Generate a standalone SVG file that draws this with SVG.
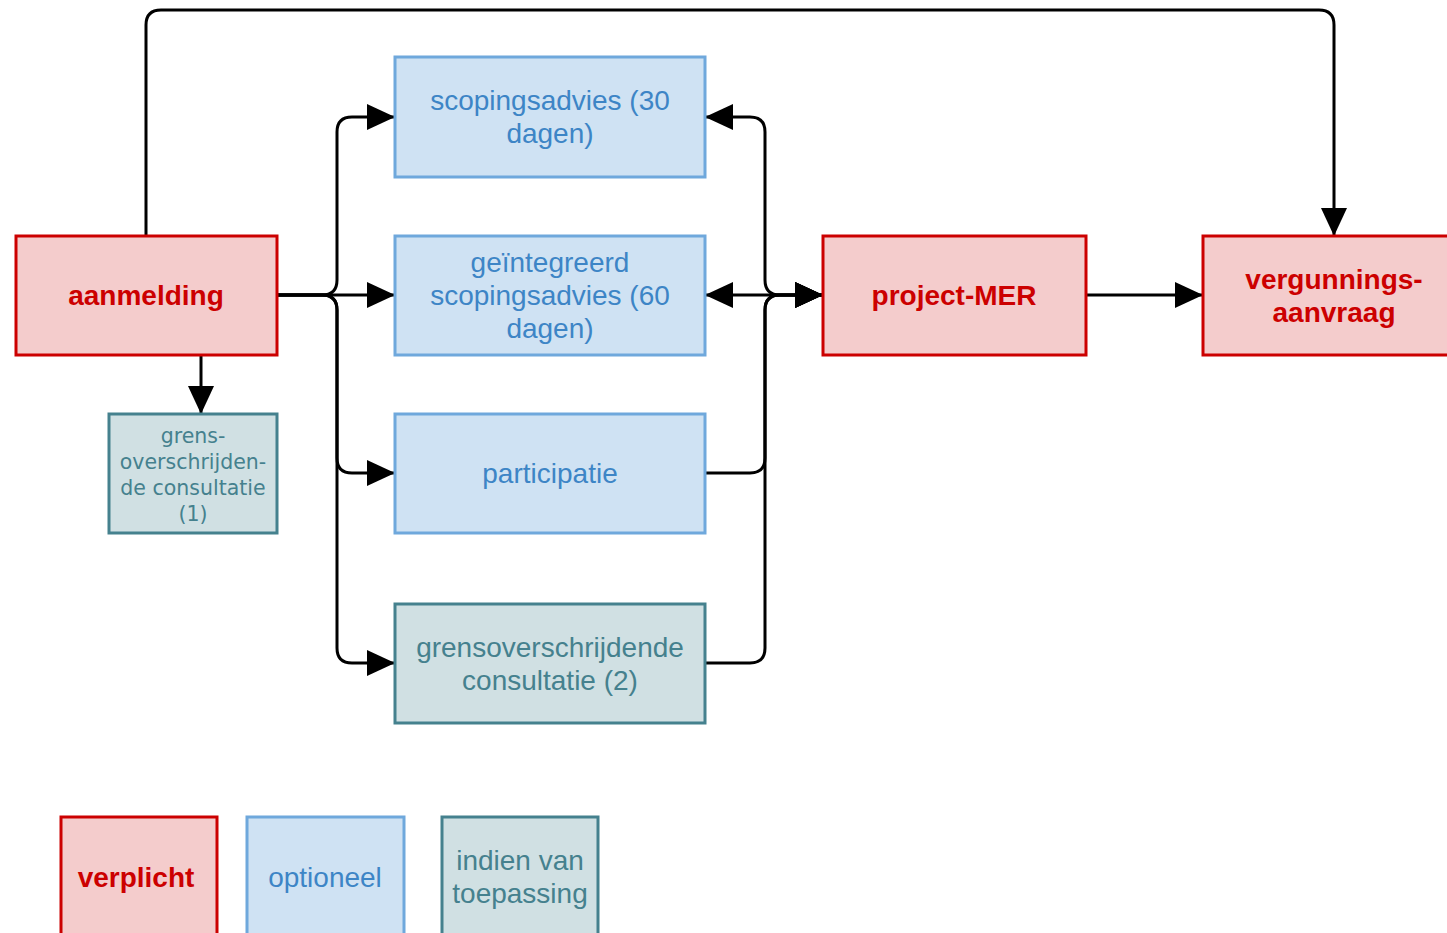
<svg xmlns="http://www.w3.org/2000/svg" width="1447" height="933" viewBox="0 0 1447 933">
<style>
.red rect{fill:#F4CCCC;stroke:#CC0000;stroke-width:3}
.red text{fill:#CC0000;font-family:"Liberation Sans",Arial,sans-serif;font-weight:bold;font-size:28px;text-anchor:middle}
.blue rect{fill:#CFE2F3;stroke:#6FA8DC;stroke-width:3}
.blue text{fill:#3D85C6;font-family:"Liberation Sans",Arial,sans-serif;font-size:28px;text-anchor:middle}
.teal rect{fill:#D0E0E3;stroke:#45818E;stroke-width:3}
.teal text{fill:#45818E;font-family:"Liberation Sans",Arial,sans-serif;font-size:28px;text-anchor:middle}
.teal text.sm{font-family:"DejaVu Sans",sans-serif;font-size:20.5px}
.edge{fill:none;stroke:#000;stroke-width:3}
</style>
<defs>
<marker id="arr" viewBox="0 0 28 26" refX="28" refY="13" markerWidth="28" markerHeight="26" markerUnits="userSpaceOnUse" orient="auto-start-reverse">
<path d="M0,0 L28,13 L0,26 Z" fill="#000"/>
</marker>
</defs>
<rect width="1447" height="933" fill="#fff"/>
<g id="connectors">
<path class="edge" d="M146,236 V25 Q146,10 161,10 H1319 Q1334,10 1334,25 V236" marker-end="url(#arr)"/>
<path class="edge" d="M277,295 H322 Q337,295 337,280 V132 Q337,117 352,117 H395" marker-end="url(#arr)"/>
<path class="edge" d="M277,295 H395" marker-end="url(#arr)"/>
<path class="edge" d="M277,295 H322 Q337,295 337,310 V458 Q337,473 352,473 H395" marker-end="url(#arr)"/>
<path class="edge" d="M277,295 H322 Q337,295 337,310 V648 Q337,663 352,663 H395" marker-end="url(#arr)"/>
<path class="edge" d="M201,355 V414" marker-end="url(#arr)"/>
<path class="edge" d="M705,117 H750 Q765,117 765,132 V280 Q765,295 780,295 H823" marker-start="url(#arr)" marker-end="url(#arr)"/>
<path class="edge" d="M705,295 H823" marker-start="url(#arr)" marker-end="url(#arr)"/>
<path class="edge" d="M705,473 H750 Q765,473 765,458 V310 Q765,295 780,295 H823" marker-end="url(#arr)"/>
<path class="edge" d="M705,663 H750 Q765,663 765,648 V310 Q765,295 780,295 H823" marker-end="url(#arr)"/>
<path class="edge" d="M1086,295 H1203" marker-end="url(#arr)"/>
</g>
<g id="aanmelding" class="red"><rect x="16" y="236" width="261" height="119"/><text x="146" y="305">aanmelding</text></g>
<g id="scopingsadvies" class="blue"><rect x="395" y="57" width="310" height="120"/><text x="550" y="110">scopingsadvies (30</text><text x="550" y="143">dagen)</text></g>
<g id="geintegreerd" class="blue"><rect x="395" y="236" width="310" height="119"/><text x="550" y="272">geïntegreerd</text><text x="550" y="305">scopingsadvies (60</text><text x="550" y="338">dagen)</text></g>
<g id="participatie" class="blue"><rect x="395" y="414" width="310" height="119"/><text x="550" y="483">participatie</text></g>
<g id="grensoverschrijdende" class="teal"><rect x="395" y="604" width="310" height="119"/><text x="550" y="657">grensoverschrijdende</text><text x="550" y="690">consultatie (2)</text></g>
<g id="grens1" class="teal"><rect x="109" y="414" width="168" height="119"/><text class="sm" x="193" y="443">grens-</text><text class="sm" x="193" y="469">overschrijden-</text><text class="sm" x="193" y="495">de consultatie</text><text class="sm" x="193" y="521">(1)</text></g>
<g id="projectmer" class="red"><rect x="823" y="236" width="263" height="119"/><text x="954" y="305">project-MER</text></g>
<g id="vergunning" class="red"><rect x="1203" y="236" width="262" height="119"/><text x="1334" y="289">vergunnings-</text><text x="1334" y="322">aanvraag</text></g>
<g id="legend-verplicht" class="red"><rect x="61" y="817" width="156" height="130"/><text x="136" y="887">verplicht</text></g>
<g id="legend-optioneel" class="blue"><rect x="247" y="817" width="157" height="130"/><text x="325" y="887">optioneel</text></g>
<g id="legend-indien" class="teal"><rect x="442" y="817" width="156" height="130"/><text x="520" y="870">indien van</text><text x="520" y="903">toepassing</text></g>
</svg>
